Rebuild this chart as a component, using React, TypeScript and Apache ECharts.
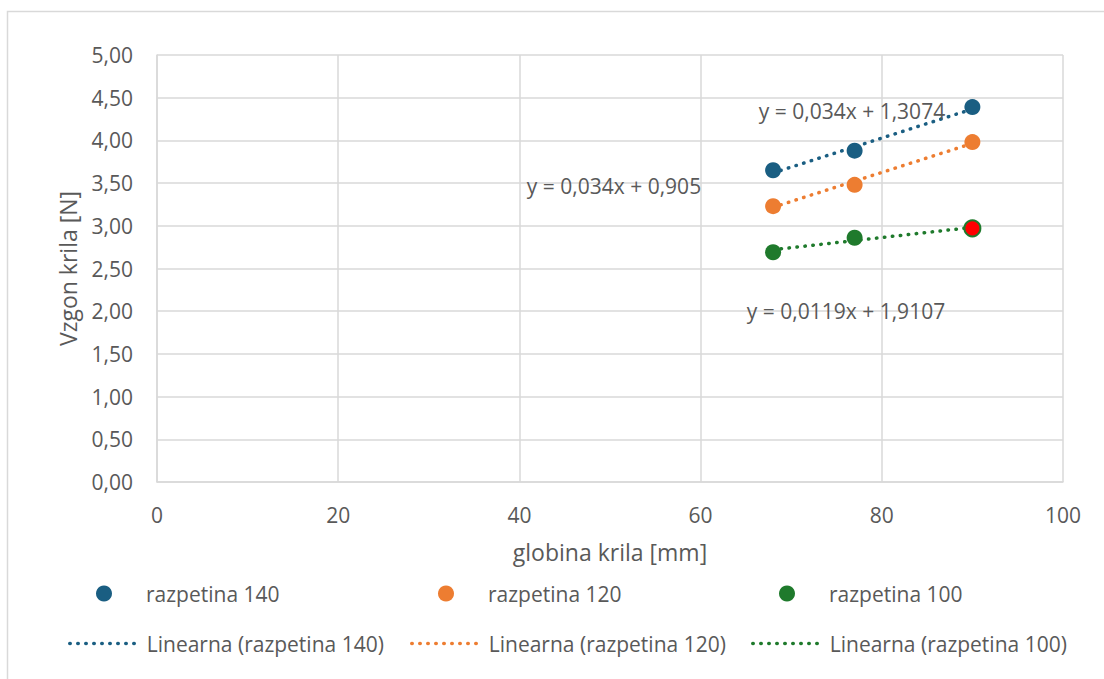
import React, { useEffect, useRef } from "react";
import * as echarts from "echarts";

// Wing depth [mm] and lift [N] for three wing spans
const depths = [68, 77, 90];
const lift140 = [3.65, 3.88, 4.39];
const lift120 = [3.23, 3.48, 3.98];
const lift100 = [2.69, 2.86, 2.97];

const spanNames = ["razpetina 140", "razpetina 120", "razpetina 100"];
const trendNames = ["Linearna (razpetina 140)", "Linearna (razpetina 120)", "Linearna (razpetina 100)"];
const slopes = [0.034, 0.034, 0.0119];
const intercepts = [1.3074, 0.905, 1.9107];
const equationLabels = ["y = 0,034x + 1,3074", "y = 0,034x + 0,905", "y = 0,0119x + 1,9107"];

const colors = ["#1a5e82", "#ed7d31", "#1f7a2c"];
const textColor = "#595959";
const gridColor = "#d9d9d9";
const fontFamily = "'Open Sans', 'Noto Sans', sans-serif";
const fontSize = 21;
const nameFontSize = 23;

const fmt = (v: number, d: number) => v.toFixed(d).replace(".", ",");

export default function App() {
  const ref = useRef<HTMLDivElement>(null);

  useEffect(() => {
    if (!ref.current) return;
    const chart = echarts.init(ref.current, undefined, { renderer: "svg" });
    const values = [lift140, lift120, lift100];
    const xMin = Math.min(...depths);
    const xMax = Math.max(...depths);

    const scatterSeries = values.map((vals, i) => ({
      name: spanNames[i],
      type: "scatter",
      symbolSize: 16,
      itemStyle: { color: colors[i], opacity: 1 },
      data: vals.map((v, j) => {
        // highlighted last measurement of the 100 span
        if (i === 2 && j === vals.length - 1) {
          return {
            value: [depths[j], v],
            itemStyle: { color: "#ff0000", borderColor: colors[i], borderWidth: 2 },
          };
        }
        return [depths[j], v];
      }),
      z: 3,
    }));

    const trendSeries = slopes.map((k, i) => ({
      name: trendNames[i],
      type: "line",
      symbol: "none",
      lineStyle: { color: colors[i], width: 3.5, type: [0.5, 7.5], cap: "round" },
      itemStyle: { color: colors[i] },
      data: [
        [xMin, k * xMin + intercepts[i]],
        [xMax, k * xMax + intercepts[i]],
      ],
      z: 2,
    }));

    const legendText = { color: textColor, fontSize, fontFamily };
    const legendX = [68, 410, 751];
    const legends: any[] = [];
    spanNames.forEach((n, i) => {
      legends.push({
        left: legendX[i] + 28,
        top: 583,
        padding: 0,
        itemWidth: 16,
        itemHeight: 16,
        data: [{ name: n, icon: "circle" }],
        textStyle: { ...legendText, padding: [0, 0, 0, 29] },
      });
    });
    trendNames.forEach((n, i) => {
      legends.push({
        left: legendX[i],
        top: 633,
        padding: 0,
        itemWidth: 72,
        itemHeight: 16,
        data: [{ name: n }],
        itemStyle: { opacity: 0 },
        lineStyle: { width: 3.5, type: [0.5, 7.5], cap: "round" },
        textStyle: { ...legendText, padding: [0, 0, 0, 0] },
      });
    });

    const eqText = (i: number, x: number, y: number) => ({
      type: "text",
      x,
      y,
      style: {
        text: equationLabels[i],
        fill: textColor,
        fontSize,
        fontFamily,
        align: "center",
        verticalAlign: "middle",
      },
      z: 10,
    });

    chart.setOption({
      animation: false,
      backgroundColor: "#ffffff",
      textStyle: { fontFamily },
      grid: { left: 157, top: 55, width: 906, height: 427 },
      xAxis: {
        type: "value",
        min: 0,
        max: 100,
        interval: 20,
        name: "globina krila [mm]",
        nameLocation: "middle",
        nameGap: 58,
        nameTextStyle: { color: textColor, fontSize: nameFontSize, fontFamily },
        axisLine: { show: true, lineStyle: { color: gridColor, width: 1.5 } },
        axisTick: { show: false },
        axisLabel: { color: textColor, fontSize, fontFamily, margin: 22 },
        splitLine: { show: true, lineStyle: { color: gridColor, width: 1.5 } },
      },
      yAxis: {
        type: "value",
        min: 0,
        max: 5,
        interval: 0.5,
        name: "Vzgon krila [N]",
        nameLocation: "middle",
        nameGap: 78,
        nameTextStyle: { color: textColor, fontSize: nameFontSize, fontFamily },
        axisLine: { show: true, lineStyle: { color: gridColor, width: 1.5 } },
        axisTick: { show: false },
        axisLabel: { color: textColor, fontSize, fontFamily, margin: 24, formatter: (v: number) => fmt(v, 2) },
        splitLine: { show: true, lineStyle: { color: gridColor, width: 1.5 } },
      },
      legend: legends,
      graphic: [
        {
          type: "rect",
          shape: { x: 7.5, y: 11.5, width: 1200, height: 800 },
          style: { fill: "none", stroke: gridColor, lineWidth: 1.5 },
          silent: true,
          z: -1,
        },
        eqText(0, 852, 111),
        eqText(1, 614, 186),
        eqText(2, 846, 311),
      ],
      series: [...scatterSeries, ...trendSeries],
    });

    return () => chart.dispose();
  }, []);

  return (
    <div
      ref={ref}
      style={{ position: "fixed", left: 0, top: 0, width: 1104, height: 679, background: "#fff" }}
    />
  );
}
